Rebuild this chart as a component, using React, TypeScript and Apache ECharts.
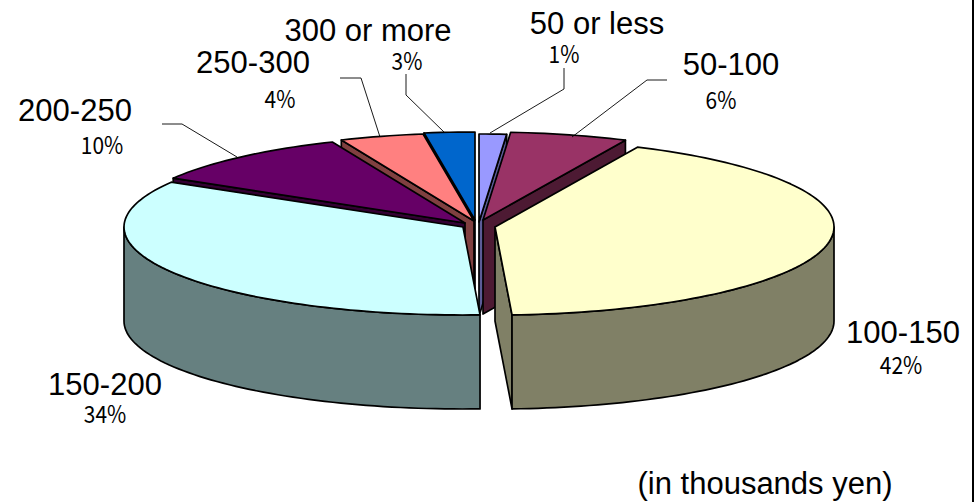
import React, { useEffect, useRef } from "react";
import * as echarts from "echarts";

const categories = ["50 or less", "50-100", "100-150", "150-200", "200-250", "250-300", "300 or more"];
const shareValues = [1.3, 5.6, 42.3, 34.3, 10.1, 4.0, 2.4];
const percentLabels = ["1%", "6%", "42%", "34%", "10%", "4%", "3%"];

const topColors = ["#9999FF", "#993366", "#FFFFCC", "#CCFFFF", "#660066", "#FF8080", "#0066CC"];
const wallColors = ["#5C5C99", "#4D1A33", "#808066", "#668080", "#330033", "#804040", "#003366"];
// back-to-front painting order
const drawOrder = [6, 0, 5, 1, 4, 2, 3];
// apex of every exploded slice on the page
const apexX = [479, 483, 495, 463, 465, 474, 475];
const apexY = [222, 220, 227, 227, 223, 221, 220];
const RX = 339;
const RY = 88;
const DEPTH = 94;

const categoryPos = [[597, 23], [731, 64], [903, 332], [105, 384], [75, 110], [253, 62], [368, 30]];
const percentPos = [[564, 52], [721, 98], [901, 363], [105, 412], [102, 143], [280, 97], [407, 59]];
const leaders = [
  [[564, 68], [564, 89], [490, 133]],
  [[667, 80], [647, 80], [572, 137]],
  null,
  null,
  [[162, 124], [182, 124], [237, 157]],
  [[340, 78], [361, 78], [380, 137]],
  [[406, 74], [406, 95], [445, 133]],
];
const unitNote = "(in thousands yen)";

const total = shareValues.reduce((a, b) => a + b, 0);
const startAngles: number[] = [];
shareValues.reduce((acc, v, i) => {
  startAngles[i] = acc;
  return acc + (v / total) * 360;
}, 0);

const rim = (i: number, deg: number, drop = 0) => {
  const r = (deg * Math.PI) / 180;
  return [apexX[i] + RX * Math.sin(r), apexY[i] - RY * Math.cos(r) + drop];
};
const arc = (i: number, a0: number, a1: number, drop = 0) => {
  const pts: number[][] = [];
  const n = Math.max(2, Math.ceil(Math.abs(a1 - a0) / 1.5));
  for (let k = 0; k <= n; k++) pts.push(rim(i, a0 + ((a1 - a0) * k) / n, drop));
  return pts;
};

const renderSlice = (_params: any, api: any) => {
  const i = api.value(0) as number;
  const a0 = startAngles[i];
  const a1 = a0 + ((api.value(1) as number) / total) * 360;
  const apex = [apexX[i], apexY[i]];
  const apexLow = [apexX[i], apexY[i] + DEPTH];
  const sin0 = Math.sin((a0 * Math.PI) / 180);
  const sin1 = Math.sin((a1 * Math.PI) / 180);
  const wallStyle = { fill: wallColors[i], stroke: "#000", lineWidth: 1.7, lineJoin: "round" };
  const children: any[] = [];
  const radialWall = (deg: number) => ({
    type: "polygon",
    shape: { points: [apex, rim(i, deg), rim(i, deg, DEPTH), apexLow] },
    style: wallStyle,
  });
  if (sin0 < 0) children.push(radialWall(a0));
  if (sin1 > 0) children.push(radialWall(a1));
  const f0 = Math.max(a0, 90);
  const f1 = Math.min(a1, 270);
  if (f1 > f0) {
    children.push({
      type: "polygon",
      shape: { points: [...arc(i, f0, f1), ...arc(i, f1, f0, DEPTH)] },
      style: wallStyle,
    });
  }
  children.push({
    type: "polygon",
    shape: { points: [apex, ...arc(i, a0, a1)] },
    style: { fill: topColors[i], stroke: "#000", lineWidth: 1.7, lineJoin: "round" },
  });
  return { type: "group", children };
};

export default function App() {
  const ref = useRef<HTMLDivElement>(null);
  useEffect(() => {
    const chart = echarts.init(ref.current!, undefined, { renderer: "svg" });
    const graphics: any[] = [];
    leaders.forEach((pts) => {
      if (pts) {
        graphics.push({
          type: "polyline",
          shape: { points: pts },
          style: { stroke: "#000", lineWidth: 0.9, fill: "none" },
          z: 5,
        });
      }
    });
    categories.forEach((name, i) => {
      graphics.push({
        type: "text",
        x: categoryPos[i][0],
        y: categoryPos[i][1],
        style: {
          text: name,
          fill: "#000",
          font: "31px 'Liberation Sans', Arial, sans-serif",
          lineHeight: 26,
          align: "center",
          verticalAlign: "middle",
        },
        z: 6,
      });
      graphics.push({
        type: "text",
        x: percentPos[i][0],
        y: percentPos[i][1],
        scaleX: 0.87,
        style: {
          text: percentLabels[i],
          fill: "#000",
          font: "24px 'Noto Sans CJK JP', sans-serif",
          lineHeight: 18,
          align: "center",
          verticalAlign: "middle",
        },
        z: 6,
      });
    });
    graphics.push({
      type: "text",
      x: 765,
      y: 483,
      style: {
        text: unitNote,
        fill: "#000",
        font: "31px 'Liberation Sans', Arial, sans-serif",
        lineHeight: 26,
        align: "center",
        verticalAlign: "middle",
      },
      z: 6,
    });
    graphics.push({
      type: "rect",
      shape: { x: 972, y: 0, width: 2, height: 502 },
      style: { fill: "#000" },
      z: 6,
    });
    chart.setOption({
      animation: false,
      backgroundColor: "#fff",
      series: [
        {
          type: "custom",
          coordinateSystem: "none",
          silent: true,
          renderItem: renderSlice,
          data: drawOrder.map((i) => [i, shareValues[i]]),
        },
      ],
      graphic: graphics,
    });
    return () => chart.dispose();
  }, []);
  return <div ref={ref} style={{ position: "absolute", left: 0, top: 0, width: 975, height: 502 }} />;
}
